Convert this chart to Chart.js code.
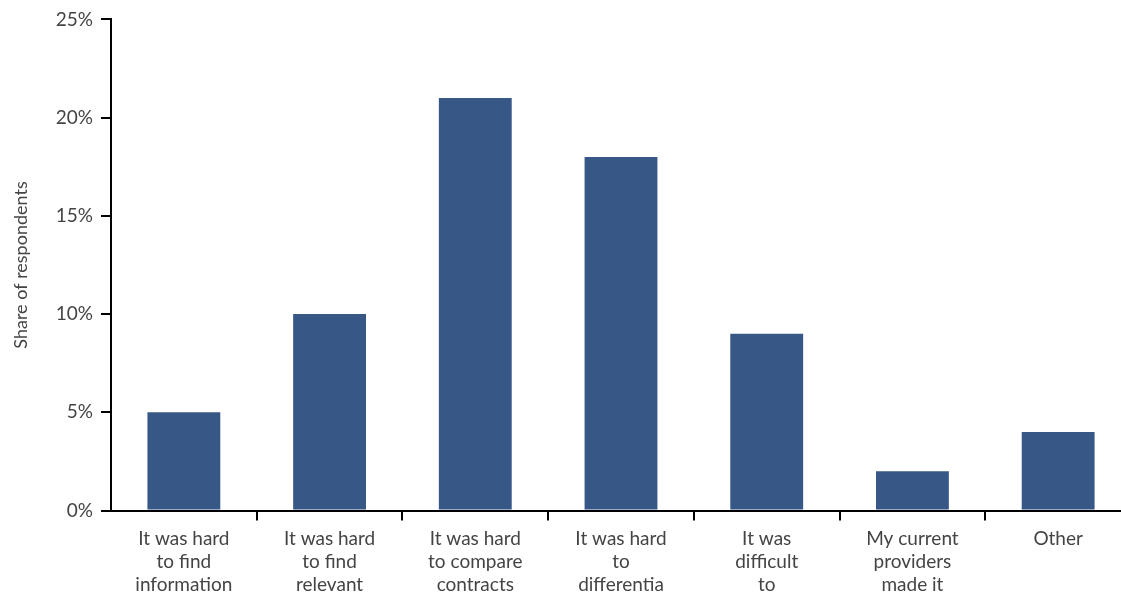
<!DOCTYPE html>
<html>
<head>
<meta charset="utf-8">
<script src="https://cdn.jsdelivr.net/npm/chart.js@4/dist/chart.umd.min.js"></script>
<style>
  html, body { margin: 0; padding: 0; background: #fff; overflow: hidden; }
  #wrap { width: 1135px; height: 603px; position: relative; }
</style>
</head>
<body>
<div id="wrap"><canvas id="chart"></canvas></div>
<script>
// categories (multi-line labels, cut off at the bottom as in the source)
const categories = [
    ["It was hard", "to find", "information"],
    ["It was hard", "to find", "relevant"],
    ["It was hard", "to compare", "contracts"],
    ["It was hard", "to", "differentia"],
    ["It was", "difficult", "to"],
    ["My current", "providers", "made it"],
    ["Other"]
];

// share of respondents, %
const shares = [5, 10, 21, 18, 9, 2, 4];

const yTicks = [0, 5, 10, 15, 20, 25];

const textColor = "#444444";
const fontFamily = "Lato, 'Noto Sans', sans-serif";

const ctx = document.getElementById("chart").getContext("2d");

new Chart(ctx, {
    type: "bar",
    data: {
        labels: categories,
        datasets: [{
            label: "Share of respondents",
            data: shares,
            backgroundColor: "#375887",
            borderWidth: 0,
            barPercentage: 0.5,
            categoryPercentage: 1.0
        }]
    },
    options: {
        responsive: true,
        maintainAspectRatio: false,
        animation: false,
        layout: { padding: { top: 10, right: 4, bottom: 0, left: 0 } },
        plugins: {
            legend: { display: false },
            tooltip: { enabled: false }
        },
        scales: {
            x: {
                offset: true,
                border: { display: true, color: "#000", width: 2 },
                grid: {
                    offset: true,
                    drawOnChartArea: false,
                    drawTicks: true,
                    tickLength: 10,
                    lineWidth: 2,
                    color: (c) => c.index === 0 ? "rgba(0,0,0,0)" : "#000"
                },
                ticks: {
                    color: textColor,
                    maxRotation: 0,
                    autoSkip: false,
                    padding: 7,
                    font: { family: fontFamily, size: 19, lineHeight: 1.2 }
                }
            },
            y: {
                min: 0,
                max: 25,
                afterBuildTicks: (scale) => {
                    scale.ticks = yTicks.map(v => ({ value: v }));
                },
                afterFit: (scale) => { scale.width = 111; },
                border: { display: true, color: "#000", width: 2 },
                grid: {
                    drawOnChartArea: false,
                    drawTicks: true,
                    tickLength: 10,
                    lineWidth: 2,
                    color: "#000"
                },
                ticks: {
                    color: textColor,
                    padding: 8,
                    font: { family: fontFamily, size: 19 },
                    callback: (v) => v + "%"
                },
                title: {
                    display: true,
                    text: "Share of respondents",
                    color: textColor,
                    padding: { top: 10, bottom: 0 },
                    font: { family: fontFamily, size: 18 }
                }
            }
        }
    }
});
</script>
</body>
</html>
